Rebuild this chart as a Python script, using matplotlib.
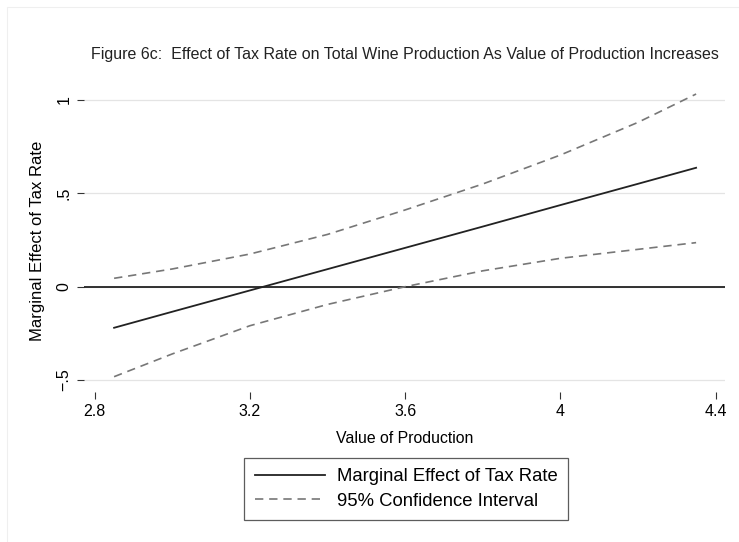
import matplotlib
matplotlib.use("Agg")
import matplotlib.pyplot as plt
from matplotlib.patches import Rectangle

# values
value_of_production = [2.85, 3.0, 3.2, 3.4, 3.6, 3.8, 4.0, 4.2, 4.35]
marginal_effect = [-0.22, -0.134, -0.02, 0.094, 0.208, 0.322, 0.437, 0.551, 0.637]
ci_upper = [0.045, 0.095, 0.175, 0.28, 0.411, 0.55, 0.705, 0.88, 1.032]
ci_lower = [-0.482, -0.36, -0.209, -0.095, 0.0, 0.085, 0.152, 0.2, 0.236]

x_ticks = [2.8, 3.2, 3.6, 4.0, 4.4]
x_tick_labels = ["2.8", "3.2", "3.6", "4", "4.4"]
y_ticks = [-0.5, 0, 0.5, 1]
y_tick_labels = ["\u2212.5", "0", ".5", "1"]

plt.rcParams['font.family'] = ['Liberation Sans', 'DejaVu Sans']

W, H = 739, 542
fig = plt.figure(figsize=(W / 100, H / 100), dpi=100)

# faint outer graph border
fig.patches.append(Rectangle((7 / W, -0.01), 1.0, (H - 7) / H + 0.01,
                             transform=fig.transFigure, fill=False,
                             edgecolor='#efefef', linewidth=0.8))

left, right, top, bottom = 84, 725, 90, 392
ax = fig.add_axes([left / W, 1 - bottom / H, (right - left) / W, (bottom - top) / H])
# data -> pixel mapping measured on the reference: 2.8 at x=94.7, 388 px per unit;
# 0 at y=286.7, 186.7 px per unit
ax.set_xlim(2.8 - (94.7 - left) / 388, 2.8 + (right - 94.7) / 388)
ax.set_ylim((286.7 - bottom) / 186.7, (286.7 - top) / 186.7)

for s in ax.spines.values():
    s.set_visible(False)

ax.set_yticks(y_ticks)
ax.set_yticklabels(y_tick_labels, rotation=90, va='center')
ax.set_xticks(x_ticks)
ax.set_xticklabels(x_tick_labels)
ax.tick_params(axis='both', length=5, width=0.8, color='#333333', labelsize=11.5, pad=4)
ax.yaxis.grid(True, color='#e4e4e4', linewidth=0.9)
ax.set_axisbelow(True)

ax.axhline(0, color='#222222', linewidth=1.3)
ax.plot(value_of_production, marginal_effect, color='#222222', linewidth=1.3,
        label='Marginal Effect of Tax Rate')
ax.plot(value_of_production, ci_upper, color='#777777', linewidth=1.2,
        dashes=(5, 3.5), label='95% Confidence Interval')
ax.plot(value_of_production, ci_lower, color='#777777', linewidth=1.2,
        dashes=(5, 3.5))

ax.set_xlabel('Value of Production', fontsize=11.4, labelpad=8)
ax.set_ylabel('Marginal Effect of Tax Rate', fontsize=12, labelpad=8)

fig.text(405 / W, 1 - 55 / H,
         'Figure 6c:  Effect of Tax Rate on Total Wine Production As Value of Production Increases',
         ha='center', va='center', fontsize=11.5, color='#222222')

leg = ax.legend(loc='center', bbox_to_anchor=(406 / W, 1 - 489 / H),
                bbox_transform=fig.transFigure, fontsize=13.3, ncol=1,
                frameon=True, fancybox=False, handlelength=3.8,
                borderpad=0.55, labelspacing=0.4, handletextpad=0.65,
                borderaxespad=0)
leg.get_frame().set_edgecolor('#333333')
leg.get_frame().set_linewidth(0.9)

fig.savefig('out.png', dpi=100)
